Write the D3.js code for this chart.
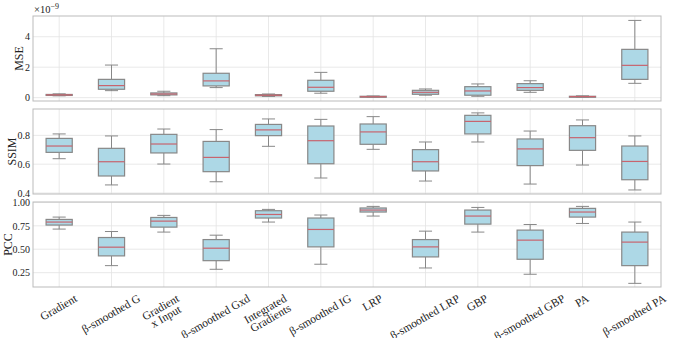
<!DOCTYPE html>
<html><head><meta charset="utf-8">
<script src="https://cdn.jsdelivr.net/npm/d3@7"></script>
<style>body{margin:0;background:#fff}svg text{font-family:"Liberation Serif","DejaVu Serif",serif;fill:#222}</style>
</head><body><svg id="c" width="675" height="338"></svg>
<script>
const categories = ["Gradient","β-smoothed G","Gradient\nx Input","β-smoothed Gxd","Integrated\nGradients","β-smoothed IG","LRP","β-smoothed LRP","GBP","β-smoothed GBP","PA","β-smoothed PA"];
// each entry: [whiskerLow, q1, median, q3, whiskerHigh]
const mseValues = [
  [0.12,0.15,0.18,0.21,0.25],[0.46,0.55,0.79,1.2,2.14],[0.13,0.18,0.24,0.31,0.42],[0.66,0.77,1.1,1.6,3.21],
  [0.08,0.12,0.16,0.2,0.24],[0.29,0.42,0.68,1.14,1.66],[0.02,0.04,0.06,0.09,0.11],[0.16,0.22,0.35,0.48,0.57],
  [0.09,0.16,0.44,0.72,0.9],[0.35,0.48,0.66,0.92,1.11],[0.02,0.04,0.07,0.09,0.12],[0.94,1.2,2.12,3.17,5.07]];
const ssimValues = [
  [0.638,0.682,0.726,0.779,0.81],[0.456,0.518,0.617,0.71,0.796],[0.601,0.678,0.74,0.807,0.844],[0.478,0.548,0.647,0.758,0.84],
  [0.724,0.798,0.838,0.876,0.914],[0.504,0.603,0.763,0.865,0.911],[0.703,0.738,0.824,0.879,0.93],[0.483,0.553,0.617,0.701,0.754],
  [0.754,0.81,0.897,0.939,0.956],[0.462,0.59,0.706,0.775,0.83],[0.594,0.696,0.784,0.867,0.907],[0.421,0.492,0.619,0.726,0.796]];
const pccValues = [
  [0.715,0.758,0.79,0.818,0.843],[0.325,0.429,0.522,0.625,0.689],[0.683,0.736,0.8,0.839,0.861],[0.286,0.378,0.511,0.603,0.65],
  [0.79,0.833,0.871,0.911,0.925],[0.34,0.525,0.711,0.833,0.865],[0.854,0.897,0.918,0.94,0.957],[0.3,0.418,0.525,0.603,0.693],
  [0.683,0.768,0.854,0.918,0.946],[0.233,0.393,0.597,0.704,0.764],[0.775,0.843,0.897,0.936,0.957],[0.136,0.325,0.576,0.683,0.79]];
const mseTicks = [0,2,4];
const ssimTicks = [0.4,0.6,0.8];
const pccTicks = [0.25,0.5,0.75,1.0];

const svg = d3.select("#c");
const L = 33, R = 661;
const x = d3.scaleBand().domain(categories).range([L,R]).paddingInner(0).paddingOuter(0);
const bw = x.bandwidth()*0.5;

const panels = [
  {name:"MSE", vals:mseValues, ticks:mseTicks, dom:[-0.22,5.36], top:16, bot:101, fmt:d=>d3.format("d")(d)},
  {name:"SSIM", vals:ssimValues, ticks:ssimTicks, dom:[0.393,0.983], top:109, bot:194, fmt:d3.format(".1f")},
  {name:"PCC", vals:pccValues, ticks:pccTicks, dom:[0.097,1.004], top:202, bot:287, fmt:d3.format(".2f")}
];

panels.forEach(p=>{
  const y = d3.scaleLinear().domain(p.dom).range([p.bot,p.top]);
  const g = svg.append("g");
  g.selectAll(".hg").data(p.ticks).join("line").attr("x1",L).attr("x2",R)
    .attr("y1",d=>y(d)).attr("y2",d=>y(d)).attr("stroke","#e3e3e3").attr("stroke-width",0.8);
  g.selectAll(".vg").data(categories).join("line").attr("y1",p.top).attr("y2",p.bot)
    .attr("x1",d=>x(d)+x.bandwidth()/2).attr("x2",d=>x(d)+x.bandwidth()/2).attr("stroke","#e3e3e3").attr("stroke-width",0.8);
  const ax = d3.axisLeft(y).tickValues(p.ticks).tickFormat(p.fmt).tickSize(0).tickPadding(3);
  const ag = g.append("g").attr("transform",`translate(${L},0)`).call(ax);
  ag.select(".domain").remove();
  ag.selectAll("text").style("font-size","10px").style("font-family","'Liberation Serif',serif").attr("fill","#222");
  let maxw = 0; ag.selectAll("text").each(function(){maxw=Math.max(maxw,this.getComputedTextLength());});
  const bg = g.selectAll(".box").data(p.vals).join("g").attr("transform",(d,i)=>`translate(${x(categories[i])+x.bandwidth()/2},0)`);
  bg.append("line").attr("x1",0).attr("x2",0).attr("y1",d=>y(d[0])).attr("y2",d=>y(d[1])).attr("stroke","#888").attr("stroke-width",1);
  bg.append("line").attr("x1",0).attr("x2",0).attr("y1",d=>y(d[3])).attr("y2",d=>y(d[4])).attr("stroke","#888").attr("stroke-width",1);
  bg.append("line").attr("x1",-bw/4).attr("x2",bw/4).attr("y1",d=>y(d[0])).attr("y2",d=>y(d[0])).attr("stroke","#888").attr("stroke-width",1);
  bg.append("line").attr("x1",-bw/4).attr("x2",bw/4).attr("y1",d=>y(d[4])).attr("y2",d=>y(d[4])).attr("stroke","#888").attr("stroke-width",1);
  bg.append("rect").attr("x",-bw/2).attr("width",bw).attr("y",d=>y(d[3])).attr("height",d=>Math.max(1,y(d[1])-y(d[3])))
    .attr("fill","#add8e6").attr("stroke","#888").attr("stroke-width",1.2);
  bg.append("line").attr("x1",-bw/2).attr("x2",bw/2).attr("y1",d=>y(d[2])).attr("y2",d=>y(d[2])).attr("stroke","#c8646e").attr("stroke-width",1.2);
  g.append("rect").attr("x",L).attr("y",p.top).attr("width",R-L).attr("height",p.bot-p.top).attr("fill","none").attr("stroke","#bbb").attr("stroke-width",1);
  const lx = Math.max(8, L-3-maxw-6);
  g.append("text").attr("transform",`translate(${lx},${(p.top+p.bot)/2}) rotate(-90)`).attr("text-anchor","middle")
    .attr("dominant-baseline","central").style("font-size","12px").text(p.name);
});

const ex = svg.append("text").attr("x",34).attr("y",13).style("font-size","10.5px");
ex.append("tspan").text("×10");
ex.append("tspan").attr("dy",-4).style("font-size","8px").text("−9");

const fs = 11.5, lh = 10.5;
categories.forEach(c=>{
  const lines = c.split("\n");
  const t = svg.append("text").style("font-size",fs+"px").attr("text-anchor","middle");
  lines.forEach((ln,i)=>t.append("tspan").attr("x",0).attr("dy",i===0?0:lh).text(ln));
  let w = 0; t.selectAll("tspan").each(function(){w=Math.max(w,this.getComputedTextLength());});
  const h = lines.length*lh + 2;
  const a = Math.PI/6;
  const bh = w*Math.sin(a)+h*Math.cos(a);
  const cx = x(c)+x.bandwidth()/2, cy = 287+6+bh/2;
  t.selectAll("tspan").attr("dy",(d,i)=> i===0 ? (-(lines.length*lh)/2+lh*0.75) : lh);
  t.attr("transform",`translate(${cx},${cy}) rotate(-30)`);
});
</script></body></html>
